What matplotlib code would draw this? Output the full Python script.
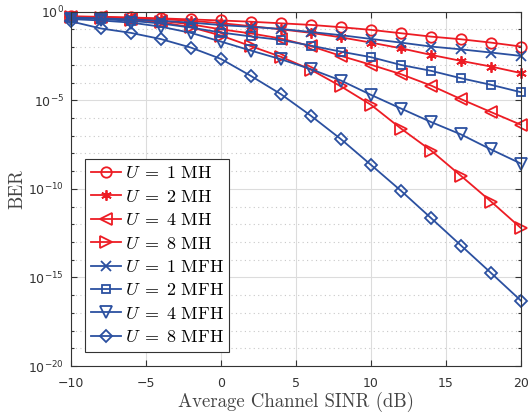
import matplotlib
matplotlib.use("Agg")
import matplotlib.pyplot as plt
from matplotlib.ticker import NullFormatter, FixedLocator

plt.rcParams['mathtext.fontset'] = 'cm'

# SINR points (dB)
snr = [-10, -8, -6, -4, -2, 0, 2, 4, 6, 8, 10, 12, 14, 16, 18, 20]

# BER
ber_1mh = [0.537, 0.513, 0.468, 0.417, 0.363, 0.316, 0.269, 0.219, 0.178, 0.132,
           0.0933, 0.0603, 0.0389, 0.0275, 0.0178, 0.0107]
ber_2mh = [0.525, 0.490, 0.437, 0.380, 0.302, 0.224, 0.151, 0.100, 0.0631, 0.0355,
           0.0178, 8.51e-3, 3.63e-3, 1.66e-3, 7.94e-4, 3.39e-4]
ber_4mh = [0.513, 0.468, 0.398, 0.302, 0.191, 0.100, 0.0589, 0.0302, 0.0112, 3.16e-3,
           1.0e-3, 2.95e-4, 6.76e-5, 1.15e-5, 2.14e-6, 4.07e-7]
ber_8mh = [0.501, 0.437, 0.355, 0.251, 0.132, 0.0447, 0.0112, 2.82e-3, 5.25e-4, 6.03e-5,
           5.5e-6, 2.51e-7, 1.45e-8, 5.37e-10, 1.91e-11, 6.03e-13]
ber_1mfh = [0.468, 0.417, 0.363, 0.302, 0.240, 0.174, 0.138, 0.105, 0.0708, 0.0468,
            0.0288, 0.0178, 0.0107, 7.41e-3, 4.90e-3, 3.16e-3]
ber_2mfh = [0.447, 0.380, 0.302, 0.214, 0.126, 0.0661, 0.0398, 0.0251, 0.0120, 5.5e-3,
            2.69e-3, 9.77e-4, 4.57e-4, 1.74e-4, 7.41e-5, 2.82e-5]
ber_4mfh = [0.380, 0.316, 0.240, 0.141, 0.0631, 0.0204, 6.31e-3, 2.04e-3, 5.62e-4, 1.29e-4,
            2.0e-5, 3.39e-6, 5.89e-7, 1.17e-7, 1.66e-8, 2.63e-9]
ber_8mfh = [0.282, 0.112, 0.0631, 0.0282, 9.33e-3, 2.14e-3, 2.34e-4, 2.19e-5, 1.32e-6, 6.31e-8,
            2.24e-9, 7.76e-11, 2.24e-12, 6.31e-14, 1.78e-15, 4.79e-17]

labels = [r'$U\;=\;1\ \mathrm{MH}$', r'$U\;=\;2\ \mathrm{MH}$', r'$U\;=\;4\ \mathrm{MH}$', r'$U\;=\;8\ \mathrm{MH}$',
          r'$U\;=\;1\ \mathrm{MFH}$', r'$U\;=\;2\ \mathrm{MFH}$', r'$U\;=\;4\ \mathrm{MFH}$', r'$U\;=\;8\ \mathrm{MFH}$']

red = '#ED1C24'
blue = '#2B50A0'

series = [ber_1mh, ber_2mh, ber_4mh, ber_8mh, ber_1mfh, ber_2mfh, ber_4mfh, ber_8mfh]
colors = [red] * 4 + [blue] * 4
markers = ['o', (6, 2, 0), '<', '>', 'x', 's', 'v', 'D']
msizes = [7.5, 7.5, 8, 8, 6.5, 6, 8, 6.5]

fig = plt.figure(figsize=(5.29, 4.15), dpi=100)
ax = fig.add_axes([0.134, 0.118, 0.851, 0.854])

for y, c, m, ms, lab in zip(series, colors, markers, msizes, labels):
    ax.semilogy(snr, y, color=c, marker=m, markersize=ms, markerfacecolor='none',
                markeredgewidth=1.3, linewidth=1.3, label=lab, clip_on=False)

ax.set_xlim(-10, 20)
ax.set_ylim(1e-20, 1)
ax.xaxis.set_major_locator(FixedLocator([-10, -5, 0, 5, 10, 15, 20]))
ax.set_yticks([1e-20, 1e-15, 1e-10, 1e-5, 1])
ax.yaxis.set_minor_locator(FixedLocator([10.0 ** (-k) for k in range(1, 20) if k % 5 != 0]))
ax.yaxis.set_minor_formatter(NullFormatter())

ax.grid(True, which='major', color='#dcdcdc', linewidth=0.8, linestyle='-')
ax.grid(True, which='minor', axis='y', color='#c8c8c8', linewidth=0.8, linestyle=(0, (1, 3)))
ax.set_axisbelow(True)

ax.tick_params(which='both', direction='in', top=True, right=True,
               labelsize=9, colors='#333333', width=0.8)
ax.tick_params(which='major', length=4)
ax.tick_params(which='minor', length=2.5)
ax.tick_params(axis='x', pad=8)
ax.tick_params(axis='y', pad=5)
for s in ax.spines.values():
    s.set_color('#333333')
    s.set_linewidth(0.8)

ax.set_xlabel('Average Channel SINR (dB)', fontfamily='cmr10', fontsize=13.5, color='#444444', labelpad=1)
ax.set_ylabel('BER', fontfamily='cmr10', fontsize=13.5, color='#444444', labelpad=1)

leg = ax.legend(loc='lower left', fontsize=13, borderaxespad=0.8, handlelength=1.7,
                handletextpad=0.2, labelspacing=0.3, borderpad=0.3, fancybox=False,
                framealpha=1)
leg.get_frame().set_edgecolor('#333333')
leg.get_frame().set_linewidth(0.8)

fig.savefig('out.png', dpi=100)
